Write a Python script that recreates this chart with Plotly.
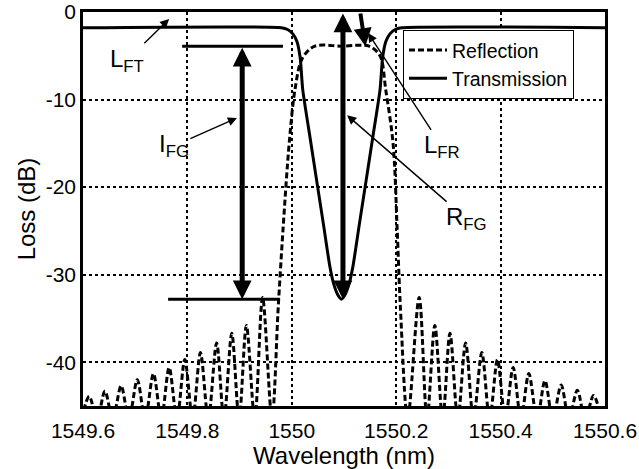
import plotly.graph_objects as go

# ---- spectrum data (wavelength in nm, loss in dB) ----
refl_wl = [
    1549.597, 1549.612, 1549.627, 1549.642, 1549.657, 1549.673, 1549.688,
    1549.704, 1549.719, 1549.735, 1549.750, 1549.765, 1549.780, 1549.795,
    1549.810, 1549.825, 1549.840, 1549.856, 1549.870, 1549.885, 1549.899,
    1549.913, 1549.929, 1549.944, 1549.962,
    1549.974, 1549.983, 1549.995, 1550.006, 1550.020, 1550.044, 1550.095,
    1550.148, 1550.169, 1550.180, 1550.194, 1550.202, 1550.208,
    1550.222, 1550.244, 1550.259, 1550.274, 1550.289, 1550.303, 1550.318,
    1550.333, 1550.348, 1550.364, 1550.379, 1550.394, 1550.409, 1550.424,
    1550.439, 1550.454, 1550.470, 1550.485, 1550.500, 1550.516, 1550.531,
    1550.547, 1550.562, 1550.578, 1550.593,
]
refl_db = [
    -46.5, -43.9, -46.5, -43.3, -46.5, -42.7, -46.5,
    -42.0, -46.5, -41.3, -46.5, -40.6, -46.5, -39.7,
    -46.5, -38.9, -46.5, -37.8, -46.5, -36.7, -46.5,
    -35.8, -46.5, -32.6, -46.5,
    -33.7, -25.0, -15.0, -8.9, -5.3, -3.9, -3.9,
    -3.9, -5.0, -8.9, -15.0, -25.0, -33.7,
    -46.5, -32.6, -46.5, -35.8, -46.5, -36.7, -46.5,
    -37.8, -46.5, -38.9, -46.5, -39.7, -46.5, -40.6,
    -46.5, -41.3, -46.5, -42.1, -46.5, -42.6, -46.5,
    -43.2, -46.5, -43.8, -46.5,
]

trans_wl = [
    1549.600, 1549.980, 1549.992, 1550.002, 1550.010, 1550.016, 1550.021,
    1550.033, 1550.047, 1550.061, 1550.073, 1550.080, 1550.088, 1550.095,
    1550.102, 1550.110, 1550.117, 1550.129, 1550.143, 1550.157, 1550.169,
    1550.174, 1550.180, 1550.188, 1550.198, 1550.210, 1550.600,
]
trans_db = [
    -1.8, -1.8, -2.0, -2.5, -3.4, -5.2, -8.9,
    -13.6, -19.0, -24.4, -29.1, -31.0, -32.3, -32.8,
    -32.3, -31.0, -29.1, -24.4, -19.0, -13.6, -8.9,
    -5.2, -3.4, -2.5, -2.0, -1.8, -1.8,
]

x_ticks = [1549.6, 1549.8, 1550.0, 1550.2, 1550.4, 1550.6]
x_tick_text = ["1549.6", "1549.8", "1550", "1550.2", "1550.4", "1550.6"]
y_ticks = [0, -10, -20, -30, -40]
y_tick_text = ["0", "-10", "-20", "-30", "-40"]

# characteristic levels used by the dimension arrows
refl_peak_db = -3.9      # top of the reflection band
trans_min_db = -32.8     # bottom of the transmission notch
grating_center = 1550.098

FONT = "Liberation Sans, Arial, Helvetica, sans-serif"

fig = go.Figure()
fig.add_trace(go.Scatter(
    x=refl_wl, y=refl_db, name="Reflection", mode="lines",
    line=dict(color="black", width=3, dash="6px,3px", shape="spline", smoothing=0.9),
))
fig.add_trace(go.Scatter(
    x=trans_wl, y=trans_db, name="Transmission", mode="lines",
    line=dict(color="black", width=3, shape="spline", smoothing=0.6),
))

# reference levels for the I_FG dimension
fig.add_shape(type="line", xref="x", yref="y", x0=1549.790, x1=1549.983,
              y0=refl_peak_db, y1=refl_peak_db, line=dict(color="black", width=3))
fig.add_shape(type="line", xref="x", yref="y", x0=1549.763, x1=1549.977,
              y0=trans_min_db, y1=trans_min_db, line=dict(color="black", width=3))

thick = dict(showarrow=True, text="", xref="x", yref="y", axref="x", ayref="y",
             arrowcolor="black", arrowhead=2, arrowsize=0.75, arrowwidth=5)
# I_FG : double arrow between reflection peak and transmission minimum
fig.add_annotation(x=1549.905, y=trans_min_db, ax=1549.905, ay=refl_peak_db,
                   arrowside="end+start", startarrowhead=2, startarrowsize=0.75, **thick)
# R_FG : double arrow from 0 dB down to the transmission minimum
fig.add_annotation(x=grating_center, y=trans_min_db, ax=grating_center, ay=0,
                   arrowside="end+start", startarrowhead=2, startarrowsize=0.75, **thick)
# L_FR : reflection loss
fig.add_annotation(x=1550.141, y=refl_peak_db, ax=1550.131, ay=0,
                   **{**thick, "arrowwidth": 4, "arrowsize": 0.9})

label = dict(showarrow=True, xref="x", yref="y", axref="x", ayref="y",
             arrowcolor="black", arrowhead=2, arrowsize=1.3, arrowwidth=1.4,
             font=dict(family=FONT, size=24, color="black"))
fig.add_annotation(text="L<sub>FT</sub>", x=1549.765, y=-0.8, ax=1549.684, ay=-5.5, **label)
fig.add_annotation(text="I<sub>FG</sub>", x=1549.895, y=-12.1, ax=1549.774, ay=-15.3, **label)
fig.add_annotation(text="L<sub>FR</sub>", x=1550.146, y=-2.4, ax=1550.288, ay=-15.4, **label)
fig.add_annotation(text="R<sub>FG</sub>", x=1550.106, y=-11.8, ax=1550.334, ay=-23.6, **label)

axis_common = dict(
    showline=True, linecolor="black", linewidth=2.5, mirror=True,
    showgrid=True, gridcolor="black", gridwidth=1.5, griddash="dot",
    zeroline=False, ticks="", automargin=False,
    tickfont=dict(family=FONT, size=21, color="black"),
)
fig.update_xaxes(range=[1549.6, 1550.6], tickvals=x_ticks, ticktext=x_tick_text,
                 title=dict(text="Wavelength (nm)", font=dict(family=FONT, size=24, color="black"),
                            standoff=2),
                 ticklabelstandoff=4, **axis_common)
fig.update_yaxes(range=[-45, 0], tickvals=y_ticks, ticktext=y_tick_text,
                 title=dict(text="Loss (dB)", font=dict(family=FONT, size=24, color="black"),
                            standoff=4),
                 **axis_common)

fig.update_layout(
    width=639, height=469,
    margin=dict(l=83, r=34, t=12, b=63, autoexpand=False),
    paper_bgcolor="white", plot_bgcolor="white",
    font=dict(family=FONT, color="black"),
    showlegend=True,
    legend=dict(x=0.613, y=0.955, xanchor="left", yanchor="top",
                bgcolor="white", bordercolor="black", borderwidth=1,
                font=dict(family=FONT, size=19.5, color="black"),
                itemwidth=38, tracegroupgap=0),
)

fig.write_html("out.html")
